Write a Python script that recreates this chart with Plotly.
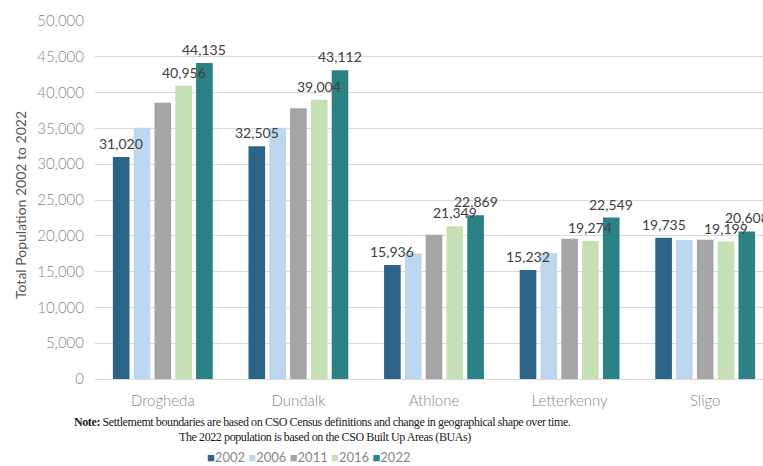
import plotly.graph_objects as go

# Settlement populations by census year
towns = ["Drogheda", "Dundalk", "Athlone", "Letterkenny", "Sligo"]
years = ["2002", "2006", "2011", "2016", "2022"]
pop_2002 = [31020, 32505, 15936, 15232, 19735]
pop_2006 = [35090, 35085, 17544, 17586, 19402]
pop_2011 = [38578, 37816, 20153, 19588, 19452]
pop_2016 = [40956, 39004, 21349, 19274, 19199]
pop_2022 = [44135, 43112, 22869, 22549, 20608]
series = [pop_2002, pop_2006, pop_2011, pop_2016, pop_2022]
colors = ["#2B6487", "#BDD7EE", "#A5A5A5", "#C5E0B4", "#2A8284"]
labelled_years = {"2002", "2016", "2022"}

W, H = 763, 466
ML, MR, MT, MB = 95, 0, 21, 87
plot_w = W - ML - MR
plot_h = H - MT - MB
CAT_PX = 135.6          # width of one category band in pixels
BARGAP = 0.233
BARGROUPGAP = 0.2
AXIS_GREY = "#888888"

def paper_x(px):
    return (px - ML) / plot_w

def paper_y(py):
    return (H - MB - py) / plot_h

fig = go.Figure()
for yr, vals, col in zip(years, series, colors):
    fig.add_trace(go.Bar(
        name=yr, x=towns, y=vals, marker_color=col,
        marker_line_width=0, showlegend=False,
    ))

# value labels above the 2002, 2016 and 2022 bars, drawn on top of all bars
n = len(years)
slot = (1 - BARGAP) / n
annotations = []
for i, (yr, vals) in enumerate(zip(years, series)):
    if yr not in labelled_years:
        continue
    for j, v in enumerate(vals):
        annotations.append(dict(
            x=j + (i - (n - 1) / 2) * slot, y=v, xref="x", yref="y",
            text=f"{v:,}", showarrow=False, yanchor="bottom", yshift=3,
            font=dict(family="Lato", size=14, color="#404040"),
        ))

# y axis title
annotations.append(dict(
    x=paper_x(20), y=paper_y(205), xref="paper", yref="paper",
    xanchor="center", yanchor="middle",
    text="Total Population 2002 to 2022", textangle=-90, showarrow=False,
    font=dict(family="Lato", size=14, color="#595959"),
))

# footnote in a compact serif face, tightly tracked
note_font = dict(family="Liberation Serif", size=12, color="#1a1a1a")
tight = "<span style='letter-spacing:-0.4px'>{}</span>"
annotations.append(dict(
    x=paper_x(322), y=paper_y(422), xref="paper", yref="paper",
    text=tight.format("<b>Note:</b> Settlememt boundaries are based on CSO Census definitions and change in geographical shape over time."),
    showarrow=False, font=note_font, xanchor="center", yanchor="middle",
))
annotations.append(dict(
    x=paper_x(325), y=paper_y(437), xref="paper", yref="paper",
    text=tight.format("The 2022 population is based on the CSO Built Up Areas (BUAs)"),
    showarrow=False, font=note_font, xanchor="center", yanchor="middle",
))

# legend row
legend_text = " ".join(
    f"<span style='color:{c}'>■</span>{y}" for y, c in zip(years, colors)
)
annotations.append(dict(
    x=paper_x(308), y=paper_y(457), xref="paper", yref="paper",
    text=legend_text, showarrow=False,
    font=dict(family="Lato", size=13, color=AXIS_GREY),
    xanchor="center", yanchor="middle",
))

fig.update_layout(
    width=W, height=H,
    margin=dict(l=ML, r=MR, t=MT, b=MB),
    paper_bgcolor="white", plot_bgcolor="white",
    barmode="group", bargap=BARGAP, bargroupgap=BARGROUPGAP,
    annotations=annotations,
    xaxis=dict(
        type="category", range=[-0.5, -0.5 + plot_w / CAT_PX],
        showgrid=False, showline=True, linecolor="#D9D9D9", linewidth=1,
        tickfont=dict(family="Lato", size=15, color=AXIS_GREY, weight=300),
        ticks="", ticklabelstandoff=8, fixedrange=True,
    ),
    yaxis=dict(
        range=[0, 50000], dtick=5000, tickformat=",",
        showgrid=True, gridcolor="#D9D9D9", gridwidth=1, zeroline=False,
        tickfont=dict(family="Lato", size=15, color=AXIS_GREY, weight=300),
        ticklabelstandoff=10,
    ),
)

fig.write_html("out.html")
